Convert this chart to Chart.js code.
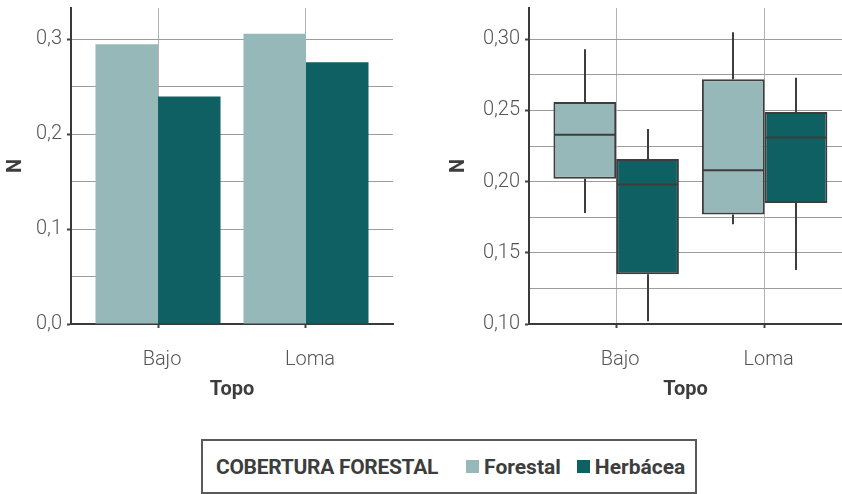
<!DOCTYPE html>
<html lang="es">
<head>
<meta charset="utf-8">
<title>N por topografía y cobertura forestal</title>
<script src="https://cdn.jsdelivr.net/npm/chart.js@4.4.1/dist/chart.umd.min.js"></script>
<style>
  html, body { margin: 0; padding: 0; background: #ffffff; overflow: hidden; }
  body { width: 842px; height: 494px; position: relative; font-family: Roboto, "Noto Sans", sans-serif; }
  .panel { position: absolute; top: 0; width: 421px; height: 410px; }
  #left { left: 0; }
  #right { left: 421px; }
  .legend {
    position: absolute; left: 201px; top: 439px; width: 492px; height: 51px;
    border: 2px solid #5a5a5a; box-sizing: content-box; white-space: nowrap;
    display: flex; align-items: center; color: #3d3d3d; font-weight: 700; font-size: 21px;
  }
  .legend > span { flex-shrink: 0; }
  .legend .title { margin-left: 13px; margin-right: 28px; letter-spacing: -0.3px; }
  .legend .item { display: flex; align-items: center; margin-right: 16px; }
  .legend .swatch { width: 13px; height: 13px; margin-right: 5px; }
</style>
</head>
<body>
<div class="panel" id="left"><canvas id="barChart" width="421" height="410"></canvas></div>
<div class="panel" id="right"><canvas id="boxChart" width="421" height="410"></canvas></div>
<div class="legend">
  <span class="title">COBERTURA FORESTAL</span>
  <span class="item"><span class="swatch" style="background:#97b8b9"></span>Forestal</span>
  <span class="item"><span class="swatch" style="background:#0e6063"></span>Herbácea</span>
</div>
<script>
// Categories and series
const categories = ['Bajo', 'Loma'];
const seriesNames = ['Forestal', 'Herbácea'];

// Mean N per topographic position (left panel)
const meanForestal = [0.295, 0.306];
const meanHerbacea = [0.240, 0.276];

// Box statistics per topographic position (right panel)
const forestalMin    = [0.178, 0.170];
const forestalQ1     = [0.202, 0.177];
const forestalMedian = [0.233, 0.208];
const forestalQ3     = [0.256, 0.272];
const forestalMax    = [0.293, 0.305];

const herbaceaMin    = [0.102, 0.138];
const herbaceaQ1     = [0.135, 0.185];
const herbaceaMedian = [0.198, 0.231];
const herbaceaQ3     = [0.216, 0.249];
const herbaceaMax    = [0.237, 0.273];

// Axis ticks (minor ticks carry grid lines but no label)
const barTicks = [0, 0.05, 0.1, 0.15, 0.2, 0.25, 0.3];
const boxTicks = [0.1, 0.125, 0.15, 0.175, 0.2, 0.225, 0.25, 0.275, 0.3];

const colForestal = '#97b8b9';
const colHerbacea = '#0e6063';
const inkDark = '#3d3d3d';
const tickInk = '#555555';

Chart.defaults.font.family = 'Roboto, "Noto Sans", sans-serif';
Chart.defaults.animation = false;

const tickFont = { family: 'Roboto', size: 20, weight: 300 };
const titleFont = { family: 'Roboto', size: 20, weight: 700 };

function isMajor(v, unit) {
  const k = Math.round(v / unit * 1000) / 1000;
  return Math.abs(k - Math.round(k)) < 1e-6;
}
function fmt(v, digits) {
  return v.toFixed(digits).replace('.', ',');
}

function xScale(min, max, gridOnTop) {
  return {
    type: 'linear',
    min: min, max: max,
    offset: false,
    z: gridOnTop ? 1 : 0,
    afterBuildTicks: s => { s.ticks = categories.map((c, i) => ({ value: i })); },
    ticks: {
      callback: v => categories[v],
      font: tickFont, color: tickInk, padding: 20, labelOffset: 4, maxRotation: 0
    },
    grid: { offset: false, color: '#b4b4b4', lineWidth: 1, tickLength: 4, tickColor: '#444444', tickWidth: 2 },
    border: { color: '#3a3a3a', width: 2 },
    title: { display: true, text: 'Topo', font: titleFont, color: inkDark, padding: { top: 0, bottom: 8 } },
    afterFit: s => { s.height = 86; s.paddingLeft = 0; s.paddingRight = 0; }
  };
}

function yScale(min, max, ticks, unit, digits, axisWidth, titlePad) {
  return {
    type: 'linear',
    min: min, max: max,
    afterBuildTicks: s => { s.ticks = ticks.map(v => ({ value: v })); },
    ticks: {
      callback: v => isMajor(v, unit) ? fmt(v, digits) : '',
      font: tickFont, color: tickInk, padding: 5
    },
    grid: {
      color: '#9c9c9c', lineWidth: 1, tickLength: 4, tickWidth: 2,
      tickColor: ctx => (ctx.tick && isMajor(ctx.tick.value, unit)) ? '#444444' : 'rgba(0,0,0,0)'
    },
    border: { color: '#3a3a3a', width: 2 },
    title: { display: true, text: 'N', font: titleFont, color: inkDark, padding: { top: titlePad, bottom: 0 } },
    afterFit: s => { s.width = axisWidth; s.paddingTop = 0; s.paddingBottom = 0; }
  };
}

// Left panel: grouped bars of mean N
new Chart(document.getElementById('barChart'), {
  type: 'bar',
  data: {
    datasets: [
      { label: seriesNames[0], data: meanForestal.map((v, i) => ({ x: i, y: v })), backgroundColor: colForestal,
        categoryPercentage: 0.845, barPercentage: 1.0, borderWidth: 0 },
      { label: seriesNames[1], data: meanHerbacea.map((v, i) => ({ x: i, y: v })), backgroundColor: colHerbacea,
        categoryPercentage: 0.845, barPercentage: 1.0, borderWidth: 0 }
    ]
  },
  options: {
    responsive: false,
    layout: { padding: { top: 8, right: 28, bottom: 0, left: 0 } },
    plugins: { legend: { display: false }, tooltip: { enabled: false } },
    scales: {
      x: xScale(-0.588, 1.588, true),
      y: yScale(0, 0.3332, barTicks, 0.1, 1, 71, 4)
    }
  }
});

// Whiskers and medians on top of the floating-bar boxes
const boxWhiskers = {
  id: 'boxWhiskers',
  afterDatasetsDraw(chart) {
    const ctx = chart.ctx;
    const y = chart.scales.y;
    const stats = [
      { min: forestalMin, med: forestalMedian, max: forestalMax, q1: forestalQ1, q3: forestalQ3 },
      { min: herbaceaMin, med: herbaceaMedian, max: herbaceaMax, q1: herbaceaQ1, q3: herbaceaQ3 }
    ];
    ctx.save();
    ctx.strokeStyle = '#3d3d3d';
    ctx.lineWidth = 2;
    chart.data.datasets.forEach((ds, di) => {
      const meta = chart.getDatasetMeta(di);
      const s = stats[di];
      meta.data.forEach((el, i) => {
        const cx = Math.round(el.x);
        const half = el.width / 2;
        ctx.beginPath();
        ctx.moveTo(cx, y.getPixelForValue(s.q3[i]));
        ctx.lineTo(cx, y.getPixelForValue(s.max[i]));
        ctx.moveTo(cx, y.getPixelForValue(s.q1[i]));
        ctx.lineTo(cx, y.getPixelForValue(s.min[i]));
        ctx.stroke();
        const my = y.getPixelForValue(s.med[i]);
        ctx.beginPath();
        ctx.moveTo(el.x - half + 1, my);
        ctx.lineTo(el.x + half - 1, my);
        ctx.stroke();
      });
    });
    ctx.restore();
  }
};

// Right panel: box plots
new Chart(document.getElementById('boxChart'), {
  type: 'bar',
  data: {
    datasets: [
      { label: seriesNames[0], data: forestalQ1.map((v, i) => ({ x: i, y: [v, forestalQ3[i]] })),
        backgroundColor: colForestal, borderColor: '#3d3d3d', borderWidth: 2, borderSkipped: false,
        categoryPercentage: 0.845, barPercentage: 1.0 },
      { label: seriesNames[1], data: herbaceaQ1.map((v, i) => ({ x: i, y: [v, herbaceaQ3[i]] })),
        backgroundColor: colHerbacea, borderColor: '#3d3d3d', borderWidth: 2, borderSkipped: false,
        categoryPercentage: 0.845, barPercentage: 1.0 }
    ]
  },
  options: {
    responsive: false,
    layout: { padding: { top: 8, right: 0, bottom: 0, left: 0 } },
    plugins: { legend: { display: false }, tooltip: { enabled: false } },
    scales: {
      x: xScale(-0.587, 1.521, false),
      y: yScale(0.1, 0.322, boxTicks, 0.05, 2, 108, 26)
    }
  },
  plugins: [boxWhiskers]
});
</script>
</body>
</html>
